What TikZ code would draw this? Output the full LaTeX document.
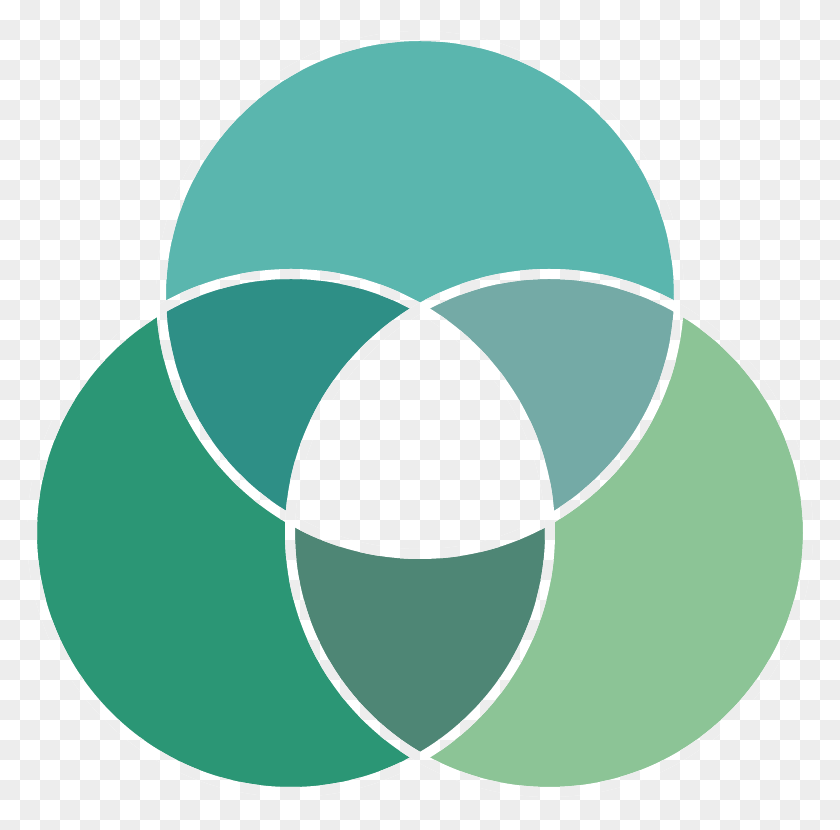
\documentclass[tikz,border=0pt]{standalone}

\definecolor{topteal}{HTML}{5AB6AE}
\definecolor{leftgreen}{HTML}{2B9675}
\definecolor{rightgreen}{HTML}{8CC496}
\definecolor{topleft}{HTML}{2E8F86}
\definecolor{topright}{HTML}{74AAA6}
\definecolor{leftright}{HTML}{4E8675}
\definecolor{checkgray}{HTML}{EDEDED}

\newcommand\checkerboard{%
  \fill[white] (0,0) rectangle (840,830);
  \foreach \i in {0,...,41} {\foreach \j in {0,...,41} {%
    \ifodd\numexpr\i+\j\relax
      \fill[checkgray] (20*\i,20*\j) rectangle ++(20,20);
    \fi}}}

\begin{document}
\begin{tikzpicture}[x=0.02cm,y=-0.02cm]
  \useasboundingbox (0,0) rectangle (840,830);
  \clip (0,0) rectangle (840,830);
  \coordinate (T) at (420,295);
  \coordinate (L) at (291,533);
  \coordinate (R) at (549,533);
  \checkerboard
  \fill[topteal]    (T) circle (259);
  \fill[leftgreen]  (L) circle (259);
  \fill[rightgreen] (R) circle (259);
  \begin{scope}
    \clip (T) circle (259);
    \fill[topleft]  (L) circle (259);
    \fill[topright] (R) circle (259);
  \end{scope}
  \begin{scope}
    \clip (L) circle (259);
    \fill[leftright] (R) circle (259);
    \clip (R) circle (259);
    \clip (T) circle (259);
    \checkerboard
  \end{scope}
  % gaps along the rims
  \foreach \c in {T,L,R} {
    \begin{scope}[even odd rule]
      \clip (\c) circle (264) (\c) circle (254);
      \checkerboard
    \end{scope}}
\end{tikzpicture}
\end{document}
